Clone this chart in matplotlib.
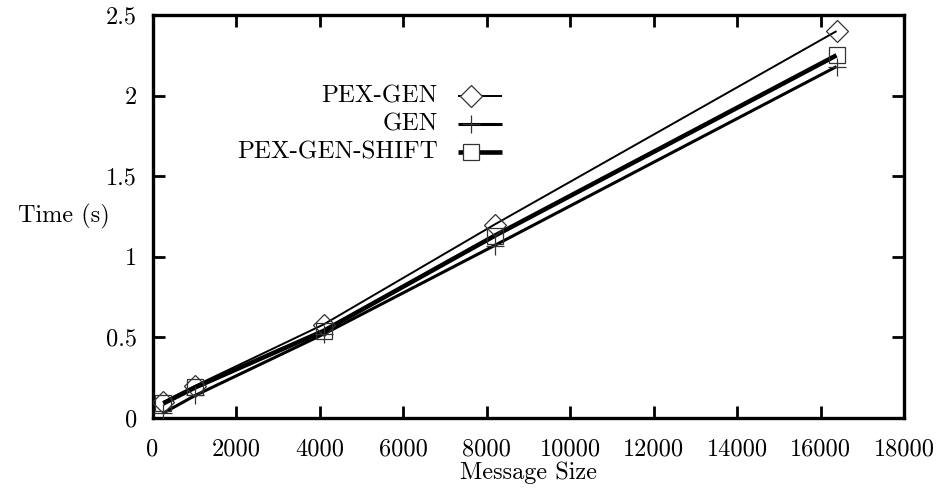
import matplotlib
matplotlib.use("Agg")
import matplotlib.pyplot as plt

plt.rcParams['font.family'] = ['cmr10', 'DejaVu Serif']
plt.rcParams['axes.unicode_minus'] = False
plt.rcParams['mathtext.fontset'] = 'cm'

sizes = [256, 1024, 4096, 8192, 16384]
pex_gen = [0.10, 0.20, 0.58, 1.20, 2.40]
gen = [0.03, 0.14, 0.52, 1.07, 2.18]
pex_gen_shift = [0.09, 0.19, 0.54, 1.13, 2.25]

labels = ["PEX-GEN", "GEN", "PEX-GEN-SHIFT"]
x_ticks = [0, 2000, 4000, 6000, 8000, 10000, 12000, 14000, 16000, 18000]
y_ticks = [0, 0.5, 1, 1.5, 2, 2.5]
y_labels = ['0', '0.5', '1', '1.5', '2', '2.5']

FS = 17.5
MEC = '#333333'

fig = plt.figure(figsize=(9.43, 4.93), dpi=100)
ax = fig.add_axes([152.5/943, 75/493, 751.5/943, 403/493])

styles = [
    dict(marker='D', ms=11, lw=1.4),
    dict(marker='+', ms=13.5, lw=2.2),
    dict(marker='s', ms=11, lw=3.3),
]
for vals, st in zip([pex_gen, gen, pex_gen_shift], styles):
    ax.plot(sizes, vals, color='black', lw=st['lw'], zorder=2,
            solid_capstyle='butt')
    if st['marker'] == '+':
        ax.plot(sizes, vals, ls='none', marker='+', ms=st['ms'], mew=0.9,
                color=MEC, zorder=3)
    else:
        ax.plot(sizes, vals, ls='none', marker=st['marker'], ms=st['ms'],
                mew=0.9, mfc='none', mec=MEC, zorder=3)

ax.set_xlim(0, 18000)
ax.set_ylim(0, 2.5)
ax.set_xticks(x_ticks)
ax.set_xticklabels([str(t) for t in x_ticks])
ax.set_yticks(y_ticks)
ax.set_yticklabels(y_labels)
ax.tick_params(direction='in', length=8.5, width=2, top=True, right=True,
               labelsize=FS)
ax.tick_params(axis='x', pad=15)
ax.tick_params(axis='y', pad=11)
for s in ax.spines.values():
    s.set_linewidth(2.4)

ax.text(0.5, -0.135, "Message Size", transform=ax.transAxes, ha='center',
        va='center', fontsize=FS)
ax.text(-0.0565, 0.50, "Time (s)", transform=ax.transAxes, ha='right',
        va='center', fontsize=FS)

# key (legend), drawn in axes-fraction coordinates
key_text_x = 0.3797
key_line = (0.406, 0.4648)
key_marker_x = 0.4235
key_rows = [0.799, 0.7295, 0.660]
for lab, st, yk in zip(labels, styles, key_rows):
    ax.text(key_text_x, yk, lab, transform=ax.transAxes, ha='right',
            va='center', fontsize=18)
    ax.plot(list(key_line), [yk, yk], transform=ax.transAxes, color='black',
            lw=st['lw'], clip_on=False, solid_capstyle='butt', zorder=2)
    if st['marker'] == '+':
        ax.plot([key_marker_x], [yk], transform=ax.transAxes, ls='none',
                marker='+', ms=st['ms'], mew=0.9, color=MEC, clip_on=False,
                zorder=3)
    else:
        ax.plot([key_marker_x], [yk], transform=ax.transAxes, ls='none',
                marker=st['marker'], ms=st['ms'], mew=0.9, mfc='white',
                mec=MEC, clip_on=False, zorder=3)

fig.savefig("out.png", dpi=100)
